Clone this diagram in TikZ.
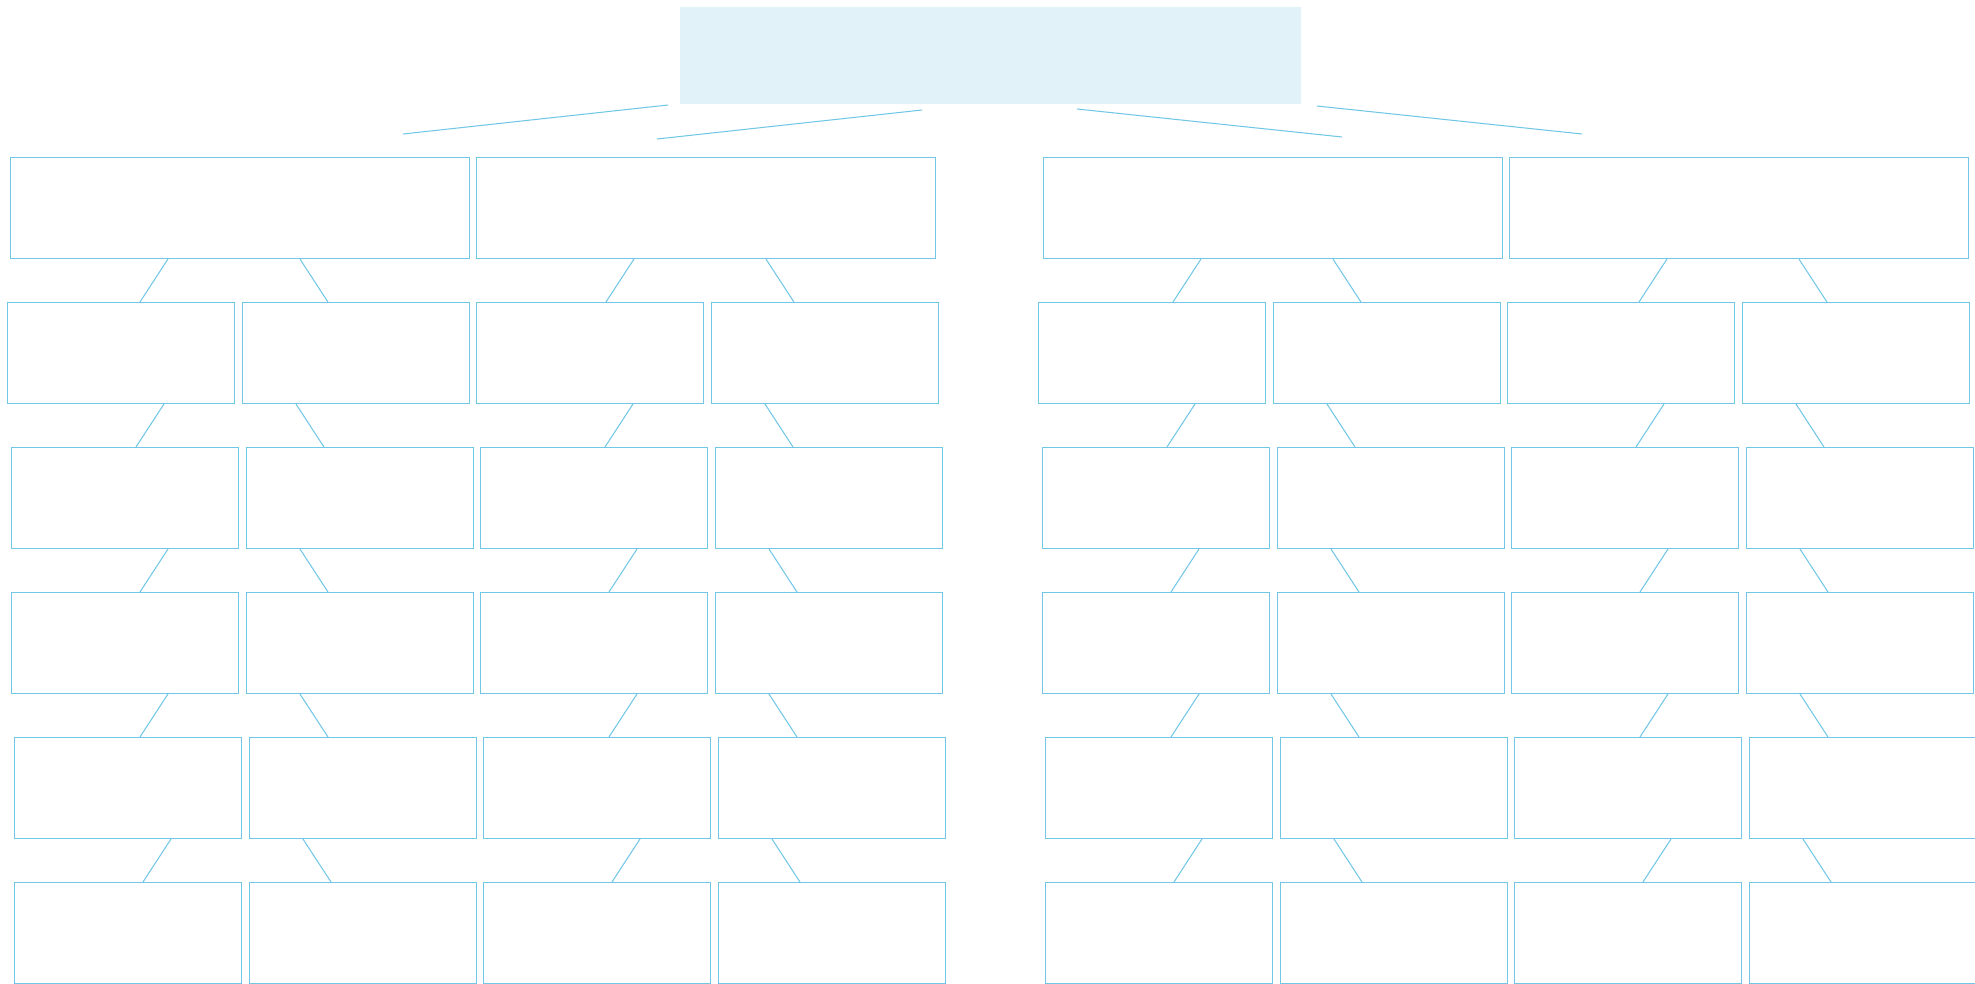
\documentclass[tikz,border=0pt]{standalone}
\definecolor{lineblue}{HTML}{72C7E7}
\definecolor{topblue}{HTML}{E1F2F9}
\tikzset{
  cellbox/.style={draw=lineblue,line width=0.6pt,inner sep=0pt,anchor=north west,
    minimum width=4.54cm,minimum height=2.02cm},
  bigbox/.style={cellbox,minimum width=9.18cm},
  topbox/.style={fill=topblue,inner sep=0pt,anchor=north west,
    minimum width=12.42cm,minimum height=1.94cm},
  link/.style={draw=lineblue,line width=0.6pt}
}
\begin{document}
\begin{tikzpicture}[x=0.02cm,y=-0.02cm]
  \useasboundingbox (0,0) rectangle (1975,984);
  \node[topbox] (top) at (680,7) {};
  % lines under the title
  \coordinate (l1a) at (403,134); \coordinate (l1b) at (668,105);
  \coordinate (l2a) at (657,139); \coordinate (l2b) at (922,110);
  \coordinate (l3a) at (1077,109); \coordinate (l3b) at (1342,137);
  \coordinate (l4a) at (1317,106); \coordinate (l4b) at (1582,134);
  \draw[link] (l1a)--(l1b);
  \draw[link] (l2a)--(l2b);
  \draw[link] (l3a)--(l3b);
  \draw[link] (l4a)--(l4b);
  % first row
  \foreach \c/\x in {1/10,2/476,3/1043,4/1509}
    \node[bigbox] (b1-\c) at (\x,157) {};
  % rows 2 to 6
  \foreach \r/\y/\s in {2/302/0,3/447/4,4/592/4,5/737/7,6/882/7}
    \foreach \c/\x in {1/7,2/242,3/476,4/711,5/1038,6/1273,7/1507,8/1742}
      \node[cellbox] (b\r-\c) at (\x+\s,\y) {};
  % links
  \foreach \c/\l/\k in {1/1/2,2/3/4,3/5/6,4/7/8}{
    \coordinate (s) at ([xshift=3.16cm]b1-\c.south west);
    \draw[link] (s)--([xshift=-0.56cm]s |- b2-\l.north);
    \coordinate (s) at ([xshift=5.8cm]b1-\c.south west);
    \draw[link] (s)--([xshift=0.56cm]s |- b2-\k.north);
  }
  \foreach \r/\n in {2/3,3/4,4/5,5/6}{
    \foreach \c in {1,3,5,7}{
      \coordinate (s) at ([xshift=3.14cm]b\r-\c.south west);
      \draw[link] (s)--([xshift=-0.56cm]s |- b\n-\c.north);
    }
    \foreach \c in {2,4,6,8}{
      \coordinate (s) at ([xshift=1.08cm]b\r-\c.south west);
      \draw[link] (s)--([xshift=0.56cm]s |- b\n-\c.north);
    }
  }
\end{tikzpicture}
\end{document}
